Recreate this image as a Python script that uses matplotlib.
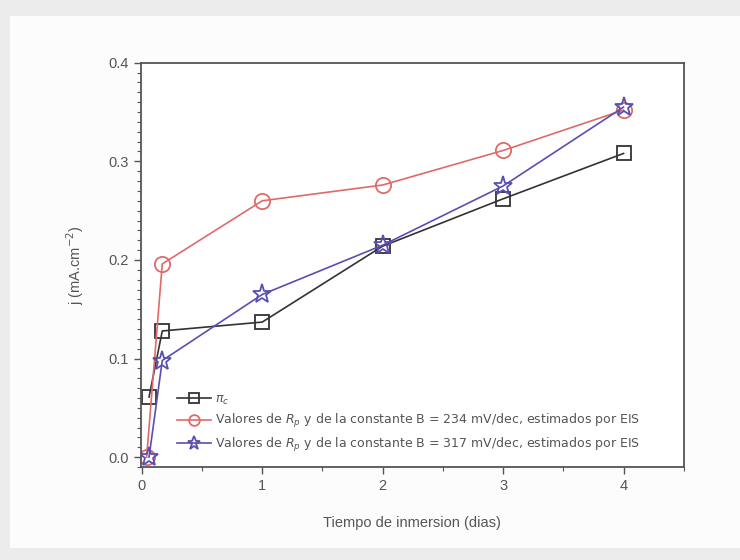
import matplotlib.pyplot as plt
from matplotlib.patches import Rectangle
from matplotlib.ticker import MultipleLocator

plt.rcParams['font.family'] = ['Liberation Sans', 'DejaVu Sans']

# data
dias_ic = [0.06, 0.17, 1, 2, 3, 4]
ic = [0.061, 0.128, 0.137, 0.214, 0.262, 0.308]

dias_234 = [0.04, 0.17, 1, 2, 3, 4]
b234 = [0.0, 0.196, 0.260, 0.276, 0.311, 0.352]

dias_317 = [0.06, 0.17, 1, 2, 3, 4]
b317 = [0.0, 0.098, 0.165, 0.215, 0.275, 0.355]

labels = [
    r"$\pi_c$",
    r"Valores de $R_p$ y de la constante B = 234 mV/dec, estimados por EIS",
    r"Valores de $R_p$ y de la constante B = 317 mV/dec, estimados por EIS",
]

fig = plt.figure(figsize=(7.4, 5.6), dpi=100, facecolor="#ececec")
fig.patches.append(Rectangle((0.014, 0.022), 0.99, 0.95, transform=fig.transFigure,
                             facecolor="#fcfcfc", edgecolor="none", zorder=-10))

ax = fig.add_axes([0.19, 0.166, 0.734, 0.722])
ax.set_facecolor("white")

ax.plot(dias_ic, ic, color="#333333", lw=1.2, marker="s", ms=10,
        mfc="none", mec="#333333", mew=1.3, label=labels[0])
ax.plot(dias_234, b234, color="#e06a6a", lw=1.2, marker="o", ms=11,
        mfc="none", mec="#e06a6a", mew=1.3, label=labels[1])
ax.plot(dias_317, b317, color="#5a4fb0", lw=1.2, marker="*", ms=14,
        mfc="none", mec="#5a4fb0", mew=1.3, label=labels[2])

ax.set_xlim(-0.01, 4.5)
ax.set_ylim(-0.01, 0.4)
ax.xaxis.set_major_locator(MultipleLocator(1))
ax.xaxis.set_minor_locator(MultipleLocator(0.5))
ax.yaxis.set_major_locator(MultipleLocator(0.1))
ax.yaxis.set_minor_locator(MultipleLocator(0.01))
ax.yaxis.set_major_formatter(plt.FormatStrFormatter("%.1f"))
ax.tick_params(which="major", direction="out", length=5, width=1,
               color="#555555", labelcolor="#555555", labelsize=10.5)
ax.tick_params(which="minor", direction="out", length=3, width=0.8, color="#555555")
for s in ax.spines.values():
    s.set_color("#555555")
    s.set_linewidth(1.3)

ax.set_xlabel("Tiempo de inmersion (dias)", fontsize=10.5, color="#555555", labelpad=17)
ax.set_ylabel(r"j (mA.cm$^{-2}$)", fontsize=10.5, color="#555555", labelpad=16)

leg = ax.legend(loc="lower left", bbox_to_anchor=(0.058, 0.02), frameon=False,
                prop={"family": "DejaVu Sans", "size": 9}, labelcolor="#555555",
                handlelength=2.7, markerscale=0.7, labelspacing=0.45,
                handletextpad=0.3, borderaxespad=0)

fig.savefig("out.png", dpi=100, facecolor=fig.get_facecolor())
